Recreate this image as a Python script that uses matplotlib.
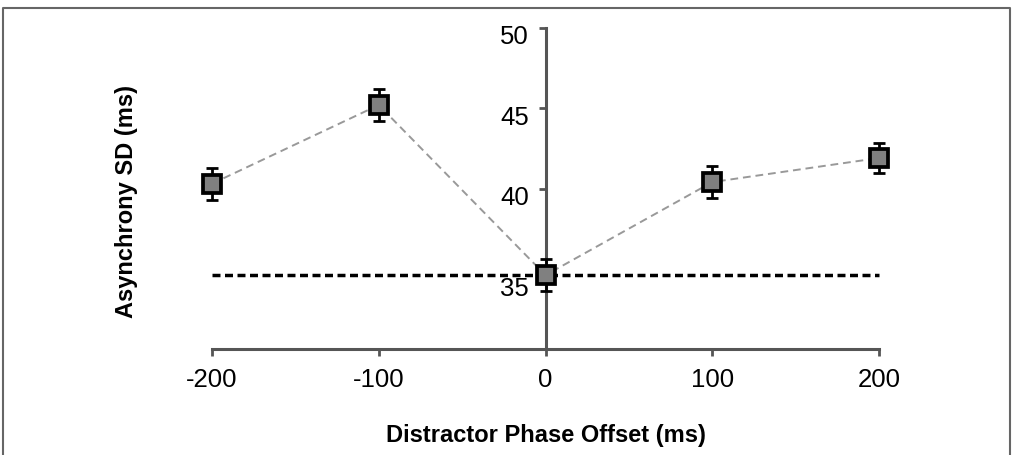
import matplotlib
matplotlib.use("Agg")
import matplotlib.pyplot as plt
from matplotlib.transforms import ScaledTranslation

plt.rcParams['font.family'] = ['Liberation Sans', 'DejaVu Sans']

offsets = [-200, -100, 0, 100, 200]
sd_values = [40.3, 45.2, 34.6, 40.4, 41.9]
sd_errors = [1.0, 1.0, 1.0, 1.0, 0.95]
baseline = 34.6
x_ticks = [-200, -100, 0, 100, 200]
y_ticks = [35, 40, 45, 50]

fig = plt.figure(figsize=(10.21, 4.56), dpi=100)
ax = fig.add_axes([212/1021, 1 - 350/456, (879 - 212)/1021, (350 - 29)/456])

axis_col = '#555555'

# baseline
ax.plot([x_ticks[0], x_ticks[-1]], [baseline, baseline], color='black', lw=2.5,
        dashes=(2.3, 1.3), zorder=2, clip_on=False)
# connecting line
ax.plot(offsets, sd_values, color='#999999', lw=1.4, dashes=(4, 2.5), zorder=3, clip_on=False)
# error bars
ax.errorbar(offsets, sd_values, yerr=sd_errors, fmt='none', ecolor='black',
            elinewidth=2, capsize=4, capthick=2, zorder=4, clip_on=False)
# markers
ax.plot(offsets, sd_values, linestyle='none', marker='s', markersize=13.5,
        markerfacecolor='#808080', markeredgecolor='black', markeredgewidth=2.7,
        zorder=5, clip_on=False)

ax.set_xlim(-200, 200)
ax.set_ylim(30, 50)

ax.spines['left'].set_position(('data', 0))
ax.spines['right'].set_visible(False)
ax.spines['top'].set_visible(False)
for s in ['left', 'bottom']:
    ax.spines[s].set_color(axis_col)
    ax.spines[s].set_linewidth(2.2)

ax.set_xticks(x_ticks)
ax.set_xticklabels([str(v) for v in x_ticks])
ax.set_yticks(y_ticks)
ax.set_yticklabels([str(v) for v in y_ticks])
ax.tick_params(axis='both', direction='out', length=5, width=2, color=axis_col,
               labelsize=18.5, labelcolor='black')
ax.tick_params(axis='y', pad=7)
ax.tick_params(axis='x', pad=8)

# nudge y tick labels down slightly, as in the reference
for lbl in ax.get_yticklabels():
    dy = -17 if lbl.get_text() == '35' else -6
    lbl.set_transform(lbl.get_transform() + ScaledTranslation(0, dy / 100, fig.dpi_scale_trans))

fig.text((212 + 879) / 2 / 1021, 1 - 436 / 456, 'Distractor Phase Offset (ms)',
         ha='center', va='center', fontsize=17, fontweight='bold')
fig.text(126 / 1021, 1 - 201 / 456, 'Asynchrony SD (ms)', rotation=90,
         ha='center', va='center', fontsize=17, fontweight='bold')

# figure frame (top, left, right)
fig.add_artist(plt.Line2D([3/1021, 3/1021, 1010/1021, 1010/1021],
                          [0, 1 - 9/456, 1 - 9/456, 0], transform=fig.transFigure,
                          color='#666666', lw=1.5))

fig.savefig('out.png', dpi=100)
